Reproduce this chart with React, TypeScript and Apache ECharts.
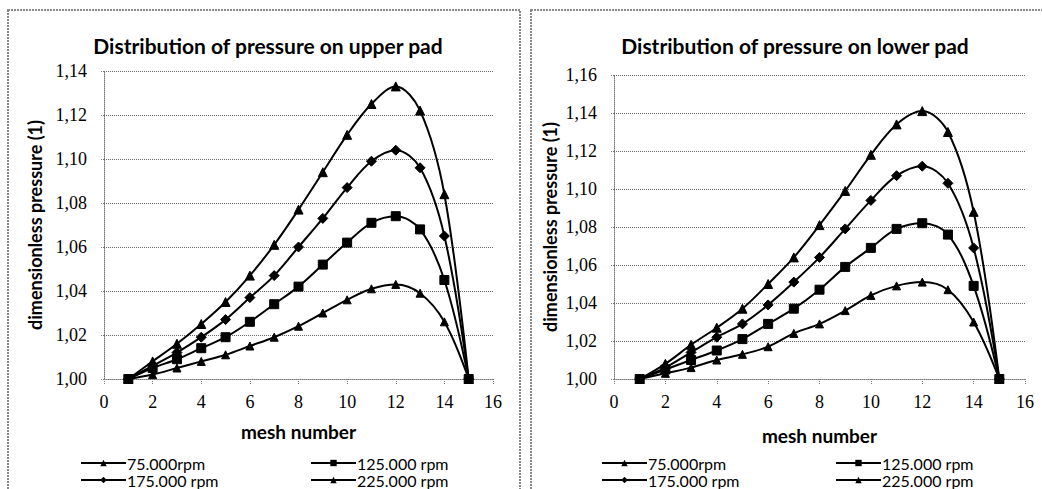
import React, { useEffect, useRef } from "react";
import * as echarts from "echarts";

const meshNumbers = [1, 2, 3, 4, 5, 6, 7, 8, 9, 10, 11, 12, 13, 14, 15];
const seriesNames = ["75.000rpm", "125.000 rpm", "175.000 rpm", "225.000 rpm"];
const seriesSymbols = ["triangle", "rect", "diamond", "triangle"];
const seriesSymbolSizes = [8, 9, 10, 9];

// upper pad
const upper75 = [1.0, 1.002, 1.005, 1.008, 1.011, 1.015, 1.019, 1.024, 1.03, 1.036, 1.041, 1.043, 1.039, 1.026, 1.0];
const upper125 = [1.0, 1.005, 1.009, 1.014, 1.019, 1.026, 1.034, 1.042, 1.052, 1.062, 1.071, 1.074, 1.068, 1.045, 1.0];
const upper175 = [1.0, 1.006, 1.012, 1.019, 1.027, 1.037, 1.047, 1.06, 1.073, 1.087, 1.099, 1.104, 1.096, 1.065, 1.0];
const upper225 = [1.0, 1.008, 1.016, 1.025, 1.035, 1.047, 1.061, 1.077, 1.094, 1.111, 1.125, 1.133, 1.122, 1.084, 1.0];

// lower pad
const lower75 = [1.0, 1.003, 1.006, 1.01, 1.013, 1.017, 1.024, 1.029, 1.036, 1.044, 1.049, 1.051, 1.047, 1.03, 1.0];
const lower125 = [1.0, 1.005, 1.01, 1.015, 1.021, 1.029, 1.037, 1.047, 1.059, 1.069, 1.079, 1.082, 1.076, 1.049, 1.0];
const lower175 = [1.0, 1.006, 1.014, 1.022, 1.029, 1.039, 1.051, 1.064, 1.079, 1.094, 1.107, 1.112, 1.103, 1.069, 1.0];
const lower225 = [1.0, 1.008, 1.018, 1.027, 1.037, 1.05, 1.064, 1.081, 1.099, 1.118, 1.134, 1.141, 1.13, 1.088, 1.0];

const titles = ["Distribution of pressure on upper pad", "Distribution of pressure on lower pad"];
const xAxisName = "mesh number";
const yAxisName = "dimensionless pressure (1)";
const xTicks = { min: 0, max: 16, interval: 2 };
const yTicksUpper = { min: 1.0, max: 1.14, interval: 0.02 };
const yTicksLower = { min: 1.0, max: 1.16, interval: 0.02 };

const SANS = "Lato, 'Open Sans', sans-serif";
const SERIF = "'Liberation Serif', 'DejaVu Serif', serif";

export default function App() {
  const ref = useRef<HTMLDivElement>(null);

  useEffect(() => {
    if (!ref.current) return;
    const chart = echarts.init(ref.current, null, { renderer: "svg" });

    const upperData = [upper75, upper125, upper175, upper225];
    const lowerData = [lower75, lower125, lower175, lower225];

    const grids = [
      { left: 104, top: 71, width: 389, height: 308 },
      { left: 614, top: 75, width: 411, height: 304 },
    ];

    const mkX = (gi: number) => ({
      type: "value",
      gridIndex: gi,
      min: xTicks.min,
      max: xTicks.max,
      interval: xTicks.interval,
      name: xAxisName,
      nameLocation: "middle",
      nameGap: gi === 0 ? 43 : 47,
      nameTextStyle: { fontFamily: SANS, fontWeight: "bold", fontSize: 19, color: "#000" },
      axisLine: { show: true, lineStyle: { color: "#777", type: "dotted", width: 1 } },
      axisTick: { show: true, length: 5, lineStyle: { color: "#777", type: "dotted" } },
      axisLabel: { fontFamily: SERIF, fontSize: 18, color: "#000", margin: 14 },
      splitLine: { show: false },
    });

    const mkY = (gi: number, t: { min: number; max: number; interval: number }) => ({
      type: "value",
      gridIndex: gi,
      min: t.min,
      max: t.max,
      interval: t.interval,
      name: yAxisName,
      nameLocation: "middle",
      nameGap: gi === 0 ? 60 : 55,
      nameTextStyle: { fontFamily: SANS, fontWeight: "bold", fontSize: 18, color: "#000" },
      axisLine: { show: true, lineStyle: { color: "#777", type: "dotted", width: 1 } },
      axisTick: { show: true, length: 4, lineStyle: { color: "#777", type: "dotted" } },
      axisLabel: {
        fontFamily: SERIF,
        fontSize: 18,
        color: "#000",
        margin: 17,
        formatter: (v: number) => v.toFixed(2).replace(".", ","),
      },
      splitLine: { show: true, lineStyle: { color: "#666", type: "dotted", width: 1 } },
    });

    const series: any[] = [];
    [upperData, lowerData].forEach((dataset, gi) => {
      dataset.forEach((vals, si) => {
        series.push({
          type: "line",
          name: seriesNames[si],
          xAxisIndex: gi,
          yAxisIndex: gi,
          data: meshNumbers.map((m, i) => [m, vals[i]]),
          smooth: 0.35,
          symbol: seriesSymbols[si],
          symbolSize: seriesSymbolSizes[si],
          showSymbol: true,
          lineStyle: { color: "#000", width: 2 },
          itemStyle: { color: "#000", borderColor: "#000" },
          z: 3 + si,
        });
      });
    });

    const legendPos = [
      { left: 80, top: 455 },
      { left: 310, top: 455 },
      { left: 80, top: 472 },
      { left: 310, top: 472 },
      { left: 601, top: 455 },
      { left: 835, top: 455 },
      { left: 601, top: 472 },
      { left: 835, top: 472 },
    ];

    const legends = legendPos.map((p, i) => ({
      left: p.left,
      top: p.top,
      padding: 0,
      itemWidth: 45,
      itemHeight: 8,
      itemGap: 0,
      data: [seriesNames[i % 4]],
      textStyle: {
        fontFamily: SANS,
        fontSize: 16,
        lineHeight: 16,
        color: "#000",
        padding: [0, 0, 0, -4],
      },
      selectedMode: false,
    }));

    chart.setOption({
      animation: false,
      backgroundColor: "#fff",
      title: [
        {
          text: titles[0],
          left: 263,
          top: 30,
          textAlign: "center",
          textStyle: { fontFamily: SANS, fontWeight: "bold", fontSize: 21, color: "#000" },
        },
        {
          text: titles[1],
          left: 790,
          top: 30,
          textAlign: "center",
          textStyle: { fontFamily: SANS, fontWeight: "bold", fontSize: 21, color: "#000" },
        },
      ],
      graphic: [
        {
          type: "rect",
          shape: { x: 8, y: 10, width: 512, height: 500 },
          style: { fill: "none", stroke: "#8a8a8a", lineWidth: 2, lineDash: [2, 1] },
          silent: true,
        },
        {
          type: "rect",
          shape: { x: 531, y: 10, width: 530, height: 500 },
          style: { fill: "none", stroke: "#8a8a8a", lineWidth: 2, lineDash: [2, 1] },
          silent: true,
        },
      ],
      grid: grids,
      xAxis: [mkX(0), mkX(1)],
      yAxis: [mkY(0, yTicksUpper), mkY(1, yTicksLower)],
      legend: legends,
      series,
    });

    return () => chart.dispose();
  }, []);

  return (
    <div
      ref={ref}
      style={{ position: "fixed", left: 0, top: 0, width: 1042, height: 489, background: "#fff" }}
    />
  );
}
